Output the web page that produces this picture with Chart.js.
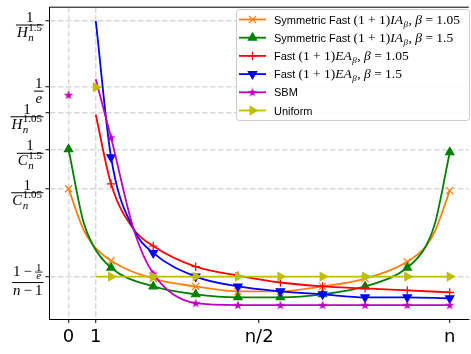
<!DOCTYPE html>
<html>
<head>
<meta charset="utf-8">
<script src="https://cdn.jsdelivr.net/npm/chart.js@4.4.1/dist/chart.umd.min.js"></script>
<style>
  html, body { margin: 0; padding: 0; background: #fff; overflow: hidden; }
  #wrap { width: 475px; height: 354px; }
</style>
</head>
<body>
<div id="wrap"><canvas id="chart" width="475" height="354"></canvas></div>
<script>
// x runs from 0 to n (n = 14 here), markers sit every n/9
const markX = [1.56, 3.11, 4.67, 6.22, 7.78, 9.33, 10.89, 12.44, 14];

// symmetric algorithms start at 0
const symX = [0, 0.54, 0.87, 1.56, 3.11, 4.67, 6.22, 7.78, 9.33, 10.89, 12.44, 13.13, 13.46, 14];
const symFast105 = [1.32, 0.91, 0.76, 0.59, 0.41, 0.33, 0.28, 0.28, 0.33, 0.41, 0.58, 0.74, 0.89, 1.30];
const symFast15 = [1.72, 0.99, 0.76, 0.52, 0.33, 0.25, 0.22, 0.22, 0.25, 0.33, 0.52, 0.74, 0.97, 1.69];

// the others start at 1
const fastX = [1, 1.56, 2.39, 3.11, 4.67, 6.22, 7.78, 9.33, 10.89, 12.44, 14];
const fast105 = [2.07, 1.37, 0.91, 0.74, 0.53, 0.44, 0.37, 0.33, 0.31, 0.29, 0.27];
const fast15 = [3.02, 1.64, 0.91, 0.67, 0.43, 0.33, 0.28, 0.25, 0.22, 0.22, 0.21];
const sbm = [2.43, 1.84, 0.91, 0.46, 0.16, 0.14, 0.14, 0.14, 0.14, 0.14, 0.14];

const uniX = [1, 1.56, 3.11, 4.67, 6.22, 7.78, 9.33, 10.89, 12.44, 14];
const uniform = [0.43, 0.43, 0.43, 0.43, 0.43, 0.43, 0.43, 0.43, 0.43, 0.43];

// lone points [x, y]
const sbmStart = [0, 2.27];
const uniStart = [1, 2.35];

const xTicks = [0, 1, 7, 14];
const xTickLabels = ['0', '1', 'n/2', 'n'];
const yTicks = [3.02, 2.35, 2.09, 1.72, 1.32, 0.43];

const SERIF = '"Liberation Serif", "DejaVu Serif", serif';
const SANS = '"Liberation Sans", Arial, sans-serif';

// math-ish labels: pieces of {t, it, sans, sub, sup, frac}
const yTickLabels = [
  { num: [{t: '1'}], den: [{t: 'H', it: true, sub: 'n', sup: '1.5'}] },
  { num: [{t: '1'}], den: [{t: 'e', it: true}] },
  { num: [{t: '1'}], den: [{t: 'H', it: true, sub: 'n', sup: '1.05'}] },
  { num: [{t: '1'}], den: [{t: 'C', it: true, sub: 'n', sup: '1.5'}] },
  { num: [{t: '1'}], den: [{t: 'C', it: true, sub: 'n', sup: '1.05'}] },
  { num: [{t: '1\u2009\u2212\u2009'}, {frac: ['1', 'e']}], den: [{t: 'n', it: true}, {t: '\u2009\u2212\u20091'}], tall: true }
];

const legendLabels = [
  [{t: 'Symmetric Fast ', sans: true}, {t: '(1 + 1)'}, {t: 'IA', it: true, sub: 'β'}, {t: ', '}, {t: 'β', it: true}, {t: ' = 1.05'}],
  [{t: 'Symmetric Fast ', sans: true}, {t: '(1 + 1)'}, {t: 'IA', it: true, sub: 'β'}, {t: ', '}, {t: 'β', it: true}, {t: ' = 1.5'}],
  [{t: 'Fast ', sans: true}, {t: '(1 + 1)'}, {t: 'EA', it: true, sub: 'β'}, {t: ', '}, {t: 'β', it: true}, {t: ' = 1.05'}],
  [{t: 'Fast ', sans: true}, {t: '(1 + 1)'}, {t: 'EA', it: true, sub: 'β'}, {t: ', '}, {t: 'β', it: true}, {t: ' = 1.5'}],
  [{t: 'SBM', sans: true}],
  [{t: 'Uniform', sans: true}]
];

// filled 5 point star for SBM
function makeStar(color) {
  const c = document.createElement('canvas');
  c.width = 10; c.height = 10;
  const g = c.getContext('2d');
  g.fillStyle = color;
  g.beginPath();
  for (let i = 0; i < 10; i++) {
    const r = i % 2 ? 2 : 5;
    const a = -Math.PI / 2 + i * Math.PI / 5;
    g.lineTo(5 + r * Math.cos(a), 5.3 + r * Math.sin(a));
  }
  g.closePath();
  g.fill();
  return c;
}
const star = makeStar('#bf00bf');

function pts(xs, ys) {
  return xs.map((x, i) => ({x: x, y: ys[i]}));
}
function radii(xs, r, withZero) {
  return xs.map(x => (markX.includes(x) || (withZero && x === 0)) ? r : 0);
}

function series(label, color, xs, ys, style, r, rot, withZero, order) {
  return {
    label: label,
    data: pts(xs, ys),
    borderColor: color,
    backgroundColor: color,
    borderWidth: 1.8,
    pointStyle: style,
    rotation: rot,
    pointRadius: radii(xs, r, withZero),
    pointBorderWidth: 1.2,
    pointBorderColor: color,
    pointBackgroundColor: color,
    cubicInterpolationMode: 'monotone',
    fill: false,
    order: order
  };
}

const datasets = [
  series('Symmetric Fast (1+1)IA_β, β = 1.05', '#ff7f0e', symX, symFast105, 'crossRot', 5, 0, true, 6),
  series('Symmetric Fast (1+1)IA_β, β = 1.5', '#008000', symX, symFast15, 'triangle', 4.8, 0, true, 5),
  series('Fast (1+1)EA_β, β = 1.05', '#ff0000', fastX, fast105, 'cross', 4.2, 0, false, 4),
  series('Fast (1+1)EA_β, β = 1.5', '#0000ff', fastX, fast15, 'triangle', 4.8, 180, false, 3),
  series('SBM', '#bf00bf', fastX, sbm, star, 5, 0, false, 2),
  series('Uniform', '#bfbf00', uniX, uniform, 'triangle', 4.8, 90, false, 1),
  {
    label: 'SBM start', data: [{x: sbmStart[0], y: sbmStart[1]}], showLine: false,
    pointStyle: star, pointRadius: 5, order: 2
  },
  {
    label: 'Uniform start', data: [{x: uniStart[0], y: uniStart[1]}], showLine: false,
    pointStyle: 'triangle', rotation: 90, pointRadius: 4.8, pointBorderWidth: 1.2,
    pointBorderColor: '#bfbf00', pointBackgroundColor: '#bfbf00', order: 1
  }
];

// sans parts (legend words) are always 11px
function setFont(ctx, p, size) {
  if (p.sans) ctx.font = '11px ' + SANS;
  else ctx.font = (p.it ? 'italic ' : '') + size + 'px ' + SERIF;
}

function mathRun(ctx, pieces, x, y, size, draw) {
  let w = 0;
  const small = Math.round(size * 0.7);
  for (const p of pieces) {
    if (p.frac) {
      ctx.font = small + 'px ' + SERIF;
      const a = ctx.measureText(p.frac[0]).width;
      ctx.font = 'italic ' + small + 'px ' + SERIF;
      const b = ctx.measureText(p.frac[1]).width;
      const fw = Math.max(a, b) + 2;
      if (draw) {
        const by = y - 4;
        ctx.fillRect(x + w, by - 0.4, fw, 0.8);
        ctx.font = small + 'px ' + SERIF;
        ctx.fillText(p.frac[0], x + w + (fw - a) / 2, by - 1.5);
        ctx.font = 'italic ' + small + 'px ' + SERIF;
        ctx.fillText(p.frac[1], x + w + (fw - b) / 2, by + 7);
      }
      w += fw;
      continue;
    }
    setFont(ctx, p, size);
    if (draw) ctx.fillText(p.t, x + w, y);
    w += ctx.measureText(p.t).width;
    if (p.sub || p.sup) {
      let sw = 0;
      if (p.sub) {
        ctx.font = 'italic ' + small + 'px ' + SERIF;
        if (draw) ctx.fillText(p.sub, x + w + 0.5, y + size * 0.25);
        sw = Math.max(sw, ctx.measureText(p.sub).width);
      }
      if (p.sup) {
        ctx.font = small + 'px ' + SERIF;
        if (draw) ctx.fillText(p.sup, x + w + 0.5, y - size * 0.42);
        sw = Math.max(sw, ctx.measureText(p.sup).width);
      }
      w += sw + 1;
    }
  }
  return w;
}

const tickLabelPlugin = {
  id: 'fracTicks',
  afterDraw(chart) {
    const ctx = chart.ctx;
    const ys = chart.scales.y;
    ctx.save();
    ctx.fillStyle = '#000';
    ctx.textBaseline = 'alphabetic';
    yTicks.forEach((v, i) => {
      const lab = yTickLabels[i];
      const size = 15;
      const py = ys.getPixelForValue(v);
      const barY = py + (lab.tall ? 6 : 4);
      const wn = mathRun(ctx, lab.num, 0, 0, size, false);
      const wd = mathRun(ctx, lab.den, 0, 0, size, false);
      const w = Math.max(wn, wd) + 2;
      const right = 43.5;
      const left = right - w;
      ctx.fillRect(left, barY - 0.5, w, 1);
      mathRun(ctx, lab.num, left + (w - wn) / 2, barY - (lab.tall ? 6.5 : 3), size, true);
      mathRun(ctx, lab.den, left + (w - wd) / 2, barY + 12, size, true);
    });
    ctx.restore();
  }
};

const framePlugin = {
  id: 'frameAndLegend',
  afterDraw(chart) {
    const ctx = chart.ctx;
    const a = chart.chartArea;
    ctx.save();
    // top spine
    ctx.fillStyle = '#000';
    ctx.fillRect(a.left, a.top - 0.5, a.right - a.left, 1);

    // legend box inside the plot, upper right
    const bx = 236.5, by = 9.5, bw = 233, bh = 111;
    ctx.beginPath();
    ctx.roundRect(bx, by, bw, bh, 3);
    ctx.fillStyle = 'rgba(255,255,255,0.85)';
    ctx.fill();
    ctx.strokeStyle = '#cccccc';
    ctx.lineWidth = 1;
    ctx.stroke();

    ctx.textBaseline = 'alphabetic';
    for (let i = 0; i < 6; i++) {
      const ds = chart.data.datasets[i];
      const cy = 19.5 + i * 18.2;
      ctx.strokeStyle = ds.borderColor;
      ctx.lineWidth = ds.borderWidth;
      ctx.beginPath();
      ctx.moveTo(239, cy);
      ctx.lineTo(266, cy);
      ctx.stroke();
      if (ds.pointStyle instanceof HTMLCanvasElement) {
        ctx.drawImage(ds.pointStyle, 252.5 - 5, cy - 5, 10, 10);
      } else {
        ctx.fillStyle = ds.borderColor;
        ctx.lineWidth = ds.pointBorderWidth;
        Chart.helpers.drawPoint(ctx, {
          pointStyle: ds.pointStyle, rotation: ds.rotation,
          radius: Math.max(...ds.pointRadius), borderWidth: ds.pointBorderWidth
        }, 252.5, cy);
      }
      ctx.fillStyle = '#000';
      mathRun(ctx, legendLabels[i], 274, cy + 4, 13.5, true);
    }
    ctx.restore();
  }
};

new Chart(document.getElementById('chart'), {
  type: 'line',
  data: { datasets: datasets },
  options: {
    responsive: false,
    animation: false,
    devicePixelRatio: 1,
    layout: { padding: { top: 3, right: 0.7, left: 0, bottom: 0 } },
    plugins: { legend: { display: false }, tooltip: { enabled: false } },
    scales: {
      x: {
        type: 'linear', min: -0.7, max: 14.7,
        afterBuildTicks: s => { s.ticks = xTicks.map(v => ({value: v})); },
        afterFit: s => { s.height = 35; },
        ticks: {
          callback: (v, i) => xTickLabels[i],
          font: { family: '"DejaVu Sans", sans-serif', size: 18 },
          color: '#000', padding: 4, maxRotation: 0, autoSkip: false
        },
        grid: {
          color: c => (c.tick && c.tick.value <= 1) ? '#d9d9d9' : 'rgba(0,0,0,0)',
          lineWidth: 1.5, tickColor: '#000', tickLength: 4, tickWidth: 1
        },
        border: { color: '#000', width: 1, dash: [5.5, 2.5] }
      },
      y: {
        min: 0, max: 3.16,
        afterBuildTicks: s => { s.ticks = yTicks.map(v => ({value: v})); },
        afterFit: s => { s.width = 49.5; },
        ticks: { callback: () => '', padding: 0 },
        grid: { color: '#d9d9d9', lineWidth: 1.5, tickColor: '#000', tickLength: 4, tickWidth: 1 },
        border: { color: '#000', width: 1, dash: [5.5, 2.5] }
      }
    }
  },
  plugins: [tickLabelPlugin, framePlugin]
});
</script>
</body>
</html>
